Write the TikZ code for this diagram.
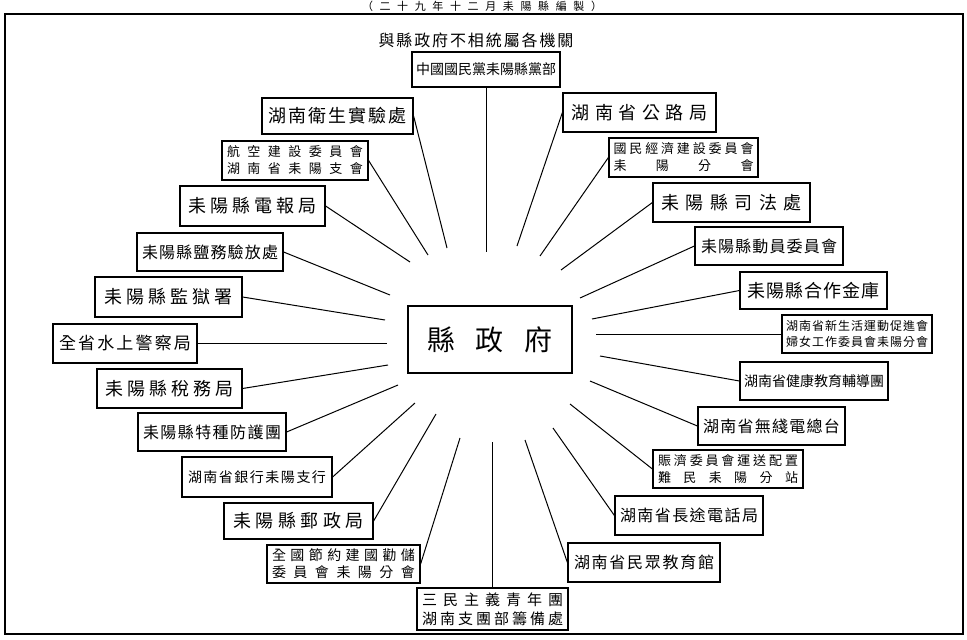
\documentclass[tikz,border=0pt]{standalone}
\usepackage{fontspec}
\setmainfont{Noto Sans CJK TC}
\makeatletter
\newcommand\sprd[2]{\makebox[#1pt]{\def\sp@sep{}\@tfor\sp@c:=#2\do{\sp@sep\sp@c\def\sp@sep{\hfill}}}}
\makeatother
\newcommand\fs[1]{\fontsize{#1}{#1}\selectfont}
\tikzset{
  bx/.style={draw=black, line width=1.2pt, inner sep=0pt, align=center, fill=white},
  ln/.style={draw=black, line width=1pt},
  fr/.style={draw=black, line width=1.3pt}
}
\begin{document}
\begin{tikzpicture}[x=1pt,y=-1pt]
\useasboundingbox (0,0) rectangle (967,640);
\fill[white] (0,0) rectangle (967,640);
\draw[fr] (5,14) rectangle (963,634);
\node[inner sep=0pt, font=\fs{11}] (title) at (482,6.5) {\sprd{240}{（二十九年十二月耒陽縣編製）}};
\node[inner sep=0pt, font=\fs{16}] (sub) at (476,40) {\sprd{195}{與縣政府不相統屬各機關}};
% centre
\node[bx, minimum width=164, minimum height=67, font=\fs{28}] (cz) at (490,339.5) {\sprd{125}{縣政府}};
% left
\node[bx, minimum width=148, minimum height=35, font=\fs{14}] (b0) at (486,69.5) {\sprd{138}{中國國民黨耒陽縣黨部}};
\node[bx, minimum width=151, minimum height=36, font=\fs{18}] (b1) at (337.5,116) {\sprd{138}{湖南衛生實驗處}};
\node[bx, minimum width=146, minimum height=39, font=\fontsize{13}{17}\selectfont] (b2) at (295,160.5) {\sprd{136}{航空建設委員會}\\\sprd{136}{湖南省耒陽支會}};
\node[bx, minimum width=145, minimum height=40, font=\fs{18}] (b3) at (252.5,206) {\sprd{128}{耒陽縣電報局}};
\node[bx, minimum width=146, minimum height=38, font=\fs{16}] (b4) at (210,252) {\sprd{136}{耒陽縣鹽務驗放處}};
\node[bx, minimum width=147, minimum height=40, font=\fs{18}] (b5) at (168.5,297) {\sprd{128}{耒陽縣監獄署}};
\node[bx, minimum width=144, minimum height=39, font=\fs{17}] (b6) at (125,343.5) {\sprd{132}{全省水上警察局}};
\node[bx, minimum width=145, minimum height=39, font=\fs{18}] (b7) at (169.5,388.5) {\sprd{128}{耒陽縣稅務局}};
\node[bx, minimum width=148, minimum height=38, font=\fs{16}] (b8) at (212,432) {\sprd{138}{耒陽縣特種防護團}};
\node[bx, minimum width=150, minimum height=40, font=\fs{14}] (b9) at (257,477) {\sprd{138}{湖南省銀行耒陽支行}};
\node[bx, minimum width=149, minimum height=36, font=\fs{18}] (b10) at (298.5,521) {\sprd{130}{耒陽縣郵政局}};
\node[bx, minimum width=153, minimum height=38, font=\fontsize{14}{17}\selectfont] (b11) at (343.5,564) {\sprd{143}{全國節約建國勸儲}\\\sprd{143}{委員會耒陽分會}};
\node[bx, minimum width=151, minimum height=42, font=\fontsize{15}{19}\selectfont] (b12) at (492.5,609) {\sprd{141}{三民主義青年團}\\\sprd{141}{湖南支團部籌備處}};
% right
\node[bx, minimum width=153, minimum height=39, font=\fs{18}] (b13) at (639.5,112.5) {\sprd{136}{湖南省公路局}};
\node[bx, minimum width=149, minimum height=39, font=\fontsize{13}{17}\selectfont] (b14) at (683.5,157.5) {\sprd{140}{國民經濟建設委員會}\\\sprd{140}{耒陽分會}};
\node[bx, minimum width=157, minimum height=39, font=\fs{18}] (b15) at (731.5,202.5) {\sprd{140}{耒陽縣司法處}};
\node[bx, minimum width=148, minimum height=38, font=\fs{16}] (b16) at (769,246) {\sprd{136}{耒陽縣動員委員會}};
\node[bx, minimum width=147, minimum height=37, font=\fs{18}] (b17) at (813.5,290.5) {\sprd{133}{耒陽縣合作金庫}};
\node[bx, minimum width=150, minimum height=38, font=\fontsize{12}{16}\selectfont] (b18) at (857,334) {\sprd{142}{湖南省新生活運動促進會}\\\sprd{142}{婦女工作委員會耒陽分會}};
\node[bx, minimum width=148, minimum height=38, font=\fs{14}] (b19) at (814,381) {\sprd{140}{湖南省健康教育輔導團}};
\node[bx, minimum width=147, minimum height=38, font=\fs{16}] (b20) at (771.5,426) {\sprd{137}{湖南省無綫電總台}};
\node[bx, minimum width=150, minimum height=38, font=\fontsize{13}{17}\selectfont] (b21) at (728,469) {\sprd{140}{賑濟委員會運送配置}\\\sprd{140}{難民耒陽分站}};
\node[bx, minimum width=148, minimum height=39, font=\fs{16}] (b22) at (689,515.5) {\sprd{138}{湖南省長途電話局}};
\node[bx, minimum width=152, minimum height=39, font=\fs{16}] (b23) at (644,562.5) {\sprd{140}{湖南省民眾教育館}};
% inner ends
\coordinate (e0) at (486,252);
\coordinate (e1) at (447,248);
\coordinate (e2) at (428,255);
\coordinate (e3) at (410,262);
\coordinate (e4) at (390,295);
\coordinate (e5) at (385,320);
\coordinate (e6) at (387,343.5);
\coordinate (e7) at (388,365);
\coordinate (e8) at (398,385);
\coordinate (e9) at (415,403);
\coordinate (e10) at (436,414);
\coordinate (e11) at (460,438);
\coordinate (e12) at (492.5,442);
\coordinate (e13) at (517,246);
\coordinate (e14) at (540,256);
\coordinate (e15) at (561,270);
\coordinate (e16) at (580,298);
\coordinate (e17) at (592,319);
\coordinate (e18) at (596,334);
\coordinate (e19) at (600,356);
\coordinate (e20) at (590,381);
\coordinate (e21) at (570,404);
\coordinate (e22) at (553,428);
\coordinate (e23) at (525,440);
\draw[ln] (b0.south) -- (e0);
\foreach \i in {1,...,11} {\draw[ln] (b\i.east) -- (e\i);}
\draw[ln] (b12.north) -- (e12);
\foreach \i in {13,...,23} {\draw[ln] (b\i.west) -- (e\i);}
\end{tikzpicture}
\end{document}
